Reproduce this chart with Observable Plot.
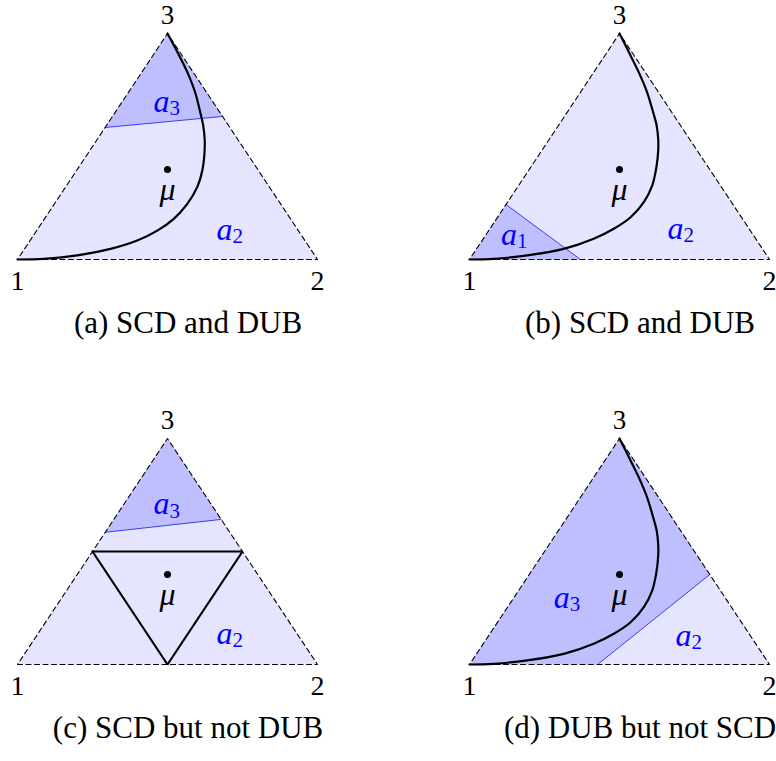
<!DOCTYPE html>
<html><head><meta charset="utf-8">
<script src="https://cdn.jsdelivr.net/npm/d3@7"></script>
<script src="https://cdn.jsdelivr.net/npm/@observablehq/plot@0.6"></script>
<style>
html,body{margin:0;padding:0;background:#fff;}
#wrap{position:relative;width:776px;height:761px;overflow:hidden;background:#fff;}
.panel{position:absolute;}
.cap{position:absolute;font-family:"Liberation Serif",serif;font-size:31px;white-space:nowrap;transform:translateX(-50%);line-height:31px;color:#000;}
</style></head><body><div id="wrap"></div>
<script>
// Simplex vertices (1, 2, 3) in triangle coordinates
const vertices = [[0,0],[1,0],[0.5,1]];
const vertexLabels = ["1","2","3"];
const mu = [0.5, 0.398];
const muLabel = "μ";

// Bold curve from vertex 1 to vertex 3 (panel a)
const curveA = [[0,0],[0.088,0.003],[0.199,0.018],[0.31,0.047],[0.399,0.084],[0.466,0.128],[0.521,0.18],[0.566,0.246],[0.599,0.32],[0.616,0.394],[0.623,0.467],[0.624,0.53],[0.619,0.593],[0.609,0.652],[0.592,0.74],[0.566,0.829],[0.533,0.918],[0.5,1]];
// Bold curve (panels b and d)
const curveBD = [[0,0],[0.081,0.003],[0.192,0.018],[0.314,0.047],[0.414,0.092],[0.481,0.136],[0.537,0.187],[0.581,0.254],[0.609,0.327],[0.623,0.408],[0.629,0.482],[0.629,0.532],[0.624,0.592],[0.612,0.652],[0.592,0.74],[0.564,0.829],[0.531,0.918],[0.5,1]];
// Inner triangle (panel c)
const innerC = [[0.25,0.5],[0.75,0.5],[0.5,0]];

// Dividing lines between regions
const dividerA = [[0.292,0.584],[0.684,0.633]];
const dividerB = [[0.122,0.243],[0.37,0]];
const dividerC = [[0.2925,0.585],[0.679,0.642]];
const dividerD = [[0.801,0.398],[0.427,0]];

// Region labels
const labelsA = [{name:"a",sub:"3",x:0.507,y:0.699},{name:"a",sub:"2",x:0.717,y:0.133}];
const labelsB = [{name:"a",sub:"1",x:0.158,y:0.11},{name:"a",sub:"2",x:0.713,y:0.137}];
const labelsC = [{name:"a",sub:"3",x:0.507,y:0.71},{name:"a",sub:"2",x:0.717,y:0.137}];
const labelsD = [{name:"a",sub:"3",x:0.334,y:0.296},{name:"a",sub:"2",x:0.74,y:0.128}];

const captions = ["(a) SCD and DUB","(b) SCD and DUB","(c) SCD but not DUB","(d) DUB but not SCD"];

const LIGHT = "#e5e5ff", DARK = "#bfbfff";
const X = d => d[0], Y = d => d[1];
const serif = "Liberation Serif";

function panel({dark, divider, curve, inner, labels}) {
  const closed = [...vertices, vertices[0]];
  const marks = [
    Plot.line(closed, {x: X, y: Y, fill: LIGHT, stroke: "none"}),
    Plot.line([...dark, dark[0]], {x: X, y: Y, fill: DARK, stroke: "none"}),
    Plot.line(divider, {x: X, y: Y, stroke: "#2a2aff", strokeWidth: 0.9}),
    Plot.line(closed, {x: X, y: Y, stroke: "black", strokeWidth: 1.1, strokeDasharray: "5,3.5"}),
  ];
  if (curve) marks.push(Plot.line(curve, {x: X, y: Y, stroke: "black", strokeWidth: 2.2, curve: "catmull-rom"}));
  if (inner) marks.push(Plot.line([...inner, inner[0]], {x: X, y: Y, stroke: "black", strokeWidth: 2.2, strokeLinejoin: "miter"}));
  marks.push(
    Plot.dot([mu], {x: X, y: Y, r: 3.5, fill: "black", stroke: "none"}),
    Plot.text([mu], {x: X, y: Y, text: () => muLabel, dy: 20, fontSize: 32, fontStyle: "italic", fontFamily: serif, fill: "black"}),
    Plot.text(labels, {x: "x", y: "y", text: "name", textAnchor: "end", fill: "blue", fontSize: 32, fontStyle: "italic", fontFamily: serif}),
    Plot.text(labels, {x: "x", y: "y", text: "sub", textAnchor: "start", dx: 0, dy: 7, fill: "blue", fontSize: 21, fontFamily: serif}),
    Plot.text(vertices.slice(0,2), {x: X, y: Y, text: (d,i) => vertexLabels[i], dy: 22, fontSize: 28, fontFamily: serif, fill: "black"}),
    Plot.text(vertices.slice(2), {x: X, y: Y, text: () => vertexLabels[2], dy: -18, fontSize: 27, fontFamily: serif, fill: "black"})
  );
  return Plot.plot({
    width: 388, height: 300,
    x: {domain: [0,1], range: [17,317]},
    y: {domain: [0,1], range: [259,33]},
    axis: null,
    style: {background: "transparent", overflow: "visible"},
    marks
  });
}

const wrap = document.getElementById("wrap");
const specs = [
  {dark: [dividerA[0], vertices[2], dividerA[1]], divider: dividerA, curve: curveA, labels: labelsA, left: 0, top: 0, cx: 188, cy: 307},
  {dark: [vertices[0], dividerB[0], dividerB[1]], divider: dividerB, curve: curveBD, labels: labelsB, left: 452, top: 0, cx: 640, cy: 307},
  {dark: [dividerC[0], vertices[2], dividerC[1]], divider: dividerC, inner: innerC, labels: labelsC, left: 0, top: 405, cx: 188, cy: 712},
  {dark: [vertices[0], vertices[2], dividerD[0], dividerD[1]], divider: dividerD, curve: curveBD, labels: labelsD, left: 452, top: 405, cx: 640, cy: 712}
];
specs.forEach((s, i) => {
  const svg = panel(s);
  svg.classList.add("panel");
  svg.style.left = s.left + "px";
  svg.style.top = s.top + "px";
  wrap.appendChild(svg);
  const c = document.createElement("div");
  c.className = "cap";
  c.textContent = captions[i];
  c.style.left = s.cx + "px";
  c.style.top = s.cy + "px";
  wrap.appendChild(c);
});
</script></body></html>
